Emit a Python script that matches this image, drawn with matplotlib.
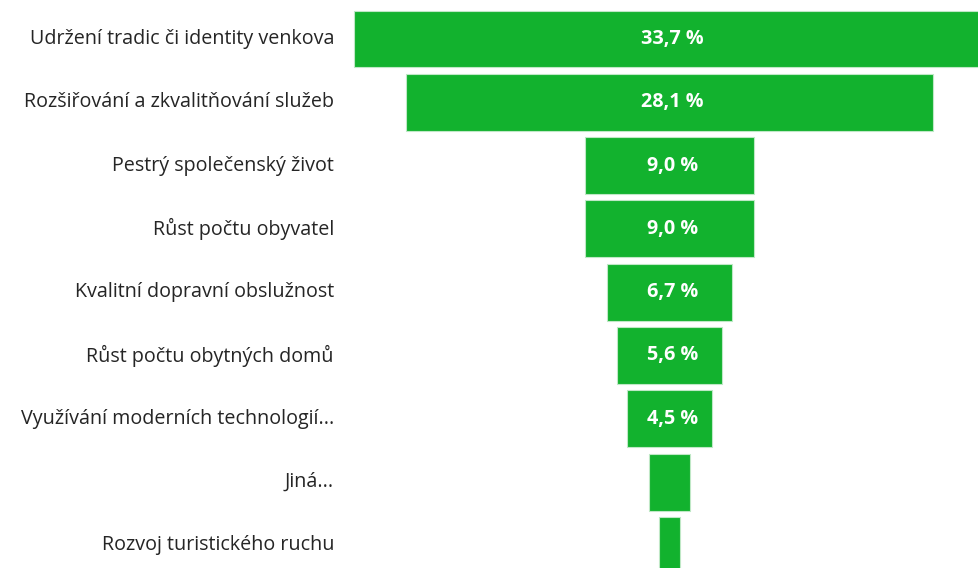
import matplotlib
matplotlib.use("Agg")
import matplotlib.pyplot as plt

categories = [
    "Udržení tradic či identity venkova",
    "Rozšiřování a zkvalitňování služeb",
    "Pestrý společenský život",
    "Růst počtu obyvatel",
    "Kvalitní dopravní obslužnost",
    "Růst počtu obytných domů",
    "Využívání moderních technologií...",
    "Jiná...",
    "Rozvoj turistického ruchu",
]
values = [33.7, 28.1, 9.0, 9.0, 6.7, 5.6, 4.5, 2.2, 1.1]
value_labels = ["33,7 %", "28,1 %", "9,0 %", "9,0 %", "6,7 %", "5,6 %", "4,5 %", "", ""]

W, H = 979, 568
fig = plt.figure(figsize=(W / 100, H / 100), dpi=100)
ax = fig.add_axes([0, 0, 1, 1])

green = "#12b22e"
center_px = 669.5
px_per_unit = 18.72
pitch = 63.3
row0 = 39.0

ys = list(range(len(categories)))
lefts = [-v / 2 for v in values]
ax.barh(ys, values, left=lefts, height=0.9, color=green,
        edgecolor="#bfe8c6", linewidth=0.8)

ax.set_xlim(-center_px / px_per_unit, (W - center_px) / px_per_unit)
ax.set_ylim((H - row0) / pitch, -row0 / pitch)
ax.axis("off")

font = ["Open Sans", "DejaVu Sans"]
tr = matplotlib.transforms.blended_transform_factory(ax.transAxes, ax.transData)
for y, cat in zip(ys, categories):
    ax.text(334 / W, y, cat, transform=tr, ha="right", va="center",
            fontsize=14.2, color="#252525", family=font)
for y, lab in zip(ys, value_labels):
    if lab:
        ax.text(0.15, y, lab, ha="center", va="center", fontsize=14.2,
                fontweight="bold", color="white", family=font)

fig.savefig("out.png", dpi=100)
